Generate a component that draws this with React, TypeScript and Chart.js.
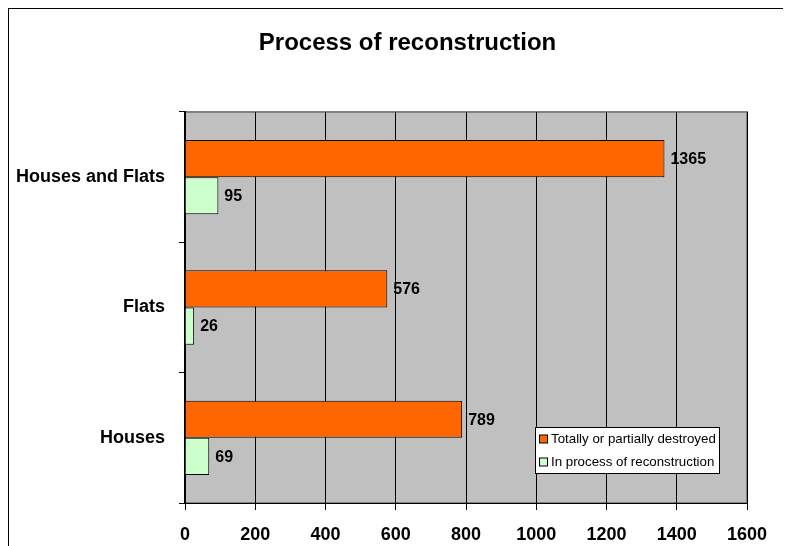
import React, { useEffect, useRef } from "react";
import { Chart, registerables } from "chart.js";

Chart.register(...registerables);

const categories = ["Houses and Flats", "Flats", "Houses"];
const destroyed = [1365, 576, 789];
const reconstruction = [95, 26, 69];
const seriesNames = ["Totally or partially destroyed", "In process of reconstruction"];
const xTicks = [0, 200, 400, 600, 800, 1000, 1200, 1400, 1600];
const titleText = "Process of reconstruction";

const FONT = "'Liberation Sans', Arial, sans-serif";

export default function App() {
  const ref = useRef<HTMLCanvasElement | null>(null);

  useEffect(() => {
    const canvas = ref.current!;
    const bgPlugin = {
      id: "bgPlugin",
      beforeDraw(chart: any) {
        const { ctx, chartArea: a, width, height } = chart;
        ctx.save();
        ctx.fillStyle = "#ffffff";
        ctx.fillRect(0, 0, width, height);
        ctx.strokeStyle = "#000000";
        ctx.lineWidth = 1;
        ctx.strokeRect(0.5, 0.5, width - 1, height - 1);
        ctx.fillStyle = "#C0C0C0";
        ctx.fillRect(a.left, a.top, a.right - a.left, a.bottom - a.top);
        ctx.strokeStyle = "#808080";
        ctx.lineWidth = 2;
        ctx.strokeRect(a.left, a.top, a.right - a.left, a.bottom - a.top);
        // title
        ctx.fillStyle = "#000";
        ctx.font = `bold 24px ${FONT}`;
        ctx.textAlign = "center";
        ctx.textBaseline = "middle";
        ctx.fillText(titleText, width / 2, 35);
        ctx.restore();
      },
      afterDatasetsDraw(chart: any) {
        const { ctx } = chart;
        ctx.save();
        ctx.fillStyle = "#000";
        ctx.font = `bold 16px ${FONT}`;
        ctx.textAlign = "left";
        ctx.textBaseline = "middle";
        chart.data.datasets.forEach((ds: any, di: number) => {
          const meta = chart.getDatasetMeta(di);
          meta.data.forEach((bar: any, i: number) => {
            ctx.fillText(String(ds.data[i]), bar.x + 6, bar.y + 1);
          });
        });
        // legend
        const a = chart.chartArea;
        const lx = a.left + 350;
        const ly = a.top + 315;
        const lw = 184;
        const lh = 46;
        ctx.fillStyle = "#fff";
        ctx.fillRect(lx, ly, lw, lh);
        ctx.strokeStyle = "#000";
        ctx.lineWidth = 1;
        ctx.strokeRect(lx + 0.5, ly + 0.5, lw, lh);
        ctx.font = `13.3px ${FONT}`;
        chart.data.datasets.forEach((ds: any, di: number) => {
          const cy = ly + 12.5 + di * 23;
          ctx.fillStyle = ds.backgroundColor;
          ctx.fillRect(lx + 4.5, cy - 4.5, 8, 8);
          ctx.strokeStyle = "#000";
          ctx.strokeRect(lx + 4.5, cy - 4.5, 8, 8);
          ctx.fillStyle = "#000";
          ctx.fillText(ds.label, lx + 16, cy);
        });
        ctx.restore();
      },
    };

    const chart = new Chart(canvas, {
      type: "bar",
      data: {
        labels: categories,
        datasets: [
          {
            label: seriesNames[0],
            data: destroyed,
            backgroundColor: "#FF6600",
            borderColor: "#000000",
            borderWidth: 1,
            categoryPercentage: 0.57,
            barPercentage: 1,
          },
          {
            label: seriesNames[1],
            data: reconstruction,
            backgroundColor: "#CCFFCC",
            borderColor: "#000000",
            borderWidth: 1,
            categoryPercentage: 0.57,
            barPercentage: 1,
          },
        ],
      },
      options: {
        indexAxis: "y",
        responsive: false,
        animation: false,
        devicePixelRatio: 1,
        layout: { padding: { left: 0, top: 104, right: 60, bottom: 0 } },
        plugins: {
          legend: { display: false },
          title: { display: false },
          tooltip: { enabled: false },
        },
        scales: {
          x: {
            type: "linear",
            min: 0,
            max: 1600,
            afterBuildTicks(scale: any) {
              scale.ticks = xTicks.map((v) => ({ value: v }));
            },
            afterFit(scale: any) {
              scale.height = 65;
            },
            grid: {
              color: "#000000",
              lineWidth: 1,
              drawTicks: true,
              tickLength: 7,
              tickColor: "#000000",
            },
            border: { display: true, color: "#000000", width: 1 },
            ticks: {
              color: "#000",
              font: { family: FONT, size: 18, weight: "bold" },
              padding: 14,
              maxRotation: 0,
              callback: (v: any) => String(v),
            },
          },
          y: {
            type: "category",
            afterFit(scale: any) {
              scale.width = 177;
            },
            grid: {
              drawOnChartArea: false,
              drawTicks: true,
              tickLength: 6,
              color: "#000000",
              offset: true,
            },
            border: { display: true, color: "#000000", width: 2 },
            ticks: {
              color: "#000",
              font: { family: FONT, size: 18, weight: "bold" },
              padding: 14,
            },
          },
        },
      },
      plugins: [bgPlugin],
    } as any);
    return () => chart.destroy();
  }, []);

  return (
    <div style={{ width: 783, height: 538, overflow: "hidden" }}>
      <canvas ref={ref} width={799} height={560} style={{ display: "block" }} />
    </div>
  );
}
